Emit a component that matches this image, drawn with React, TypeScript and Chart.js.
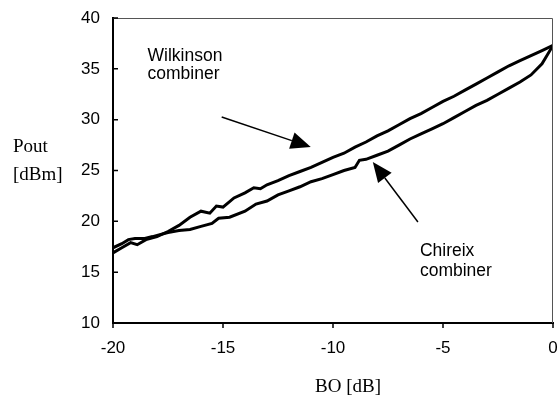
import React, { useEffect, useRef } from "react";
import { Chart, registerables } from "chart.js";

Chart.register(...registerables);

// BO [dB] sample positions and Pout [dBm] values
const wilkinsonBO = [-20, -19.6, -19.2, -18.9, -18.5, -18, -17.5, -17, -16.5, -16, -15.6, -15.3, -15, -14.5, -14, -13.6, -13.3, -13, -12.5, -12, -11.5, -11, -10.5, -10, -9.5, -9, -8.5, -8, -7.5, -7, -6.5, -6, -5.5, -5, -4.5, -4, -3.5, -3, -2.5, -2, -1.5, -1, -0.5, 0];
const wilkinsonPout = [16.9, 17.4, 17.9, 17.7, 18.2, 18.5, 19.0, 19.6, 20.4, 21.0, 20.8, 21.5, 21.4, 22.3, 22.8, 23.3, 23.2, 23.6, 24.0, 24.5, 24.9, 25.3, 25.8, 26.3, 26.7, 27.3, 27.8, 28.4, 28.9, 29.5, 30.1, 30.6, 31.2, 31.8, 32.3, 32.9, 33.5, 34.1, 34.7, 35.3, 35.8, 36.3, 36.8, 37.3];

const chireixBO = [-20, -19.6, -19.3, -19, -18.6, -18.2, -17.5, -17, -16.5, -16, -15.5, -15.2, -14.7, -14, -13.5, -13, -12.5, -12, -11.5, -11, -10.5, -10, -9.5, -9, -8.8, -8.5, -8, -7.5, -7, -6.5, -6, -5.5, -5, -4.5, -4, -3.5, -3, -2.5, -2, -1.5, -1, -0.5, 0];
const chireixPout = [17.4, 17.8, 18.2, 18.3, 18.3, 18.5, 18.9, 19.1, 19.2, 19.5, 19.8, 20.3, 20.4, 21.0, 21.7, 22.0, 22.6, 23.0, 23.4, 23.9, 24.2, 24.6, 25.0, 25.3, 26.0, 26.1, 26.5, 26.9, 27.5, 28.1, 28.6, 29.1, 29.6, 30.2, 30.8, 31.4, 31.9, 32.5, 33.1, 33.7, 34.4, 35.5, 37.3];

const xTicks = [-20, -15, -10, -5, 0];
const yTicks = [10, 15, 20, 25, 30, 35, 40];

// annotation anchors in data units
const wilkLabel = { x: -18.43, lines: [{ text: "Wilkinson", y: 35.8 }, { text: "combiner", y: 34.0 }] };
const wilkArrow = { from: [-15.06, 30.26], to: [-11.01, 27.31] };
const chirLabel = { x: -6.05, lines: [{ text: "Chireix", y: 16.62 }, { text: "combiner", y: 14.62 }] };
const chirArrow = { from: [-6.14, 19.94], to: [-8.19, 25.84] };

const SANS = "'Liberation Sans', Arial, sans-serif";
const SERIF = "'Liberation Serif', 'Times New Roman', serif";

function drawArrow(ctx: CanvasRenderingContext2D, x0: number, y0: number, x1: number, y1: number) {
  const dx = x1 - x0, dy = y1 - y0;
  const len = Math.hypot(dx, dy);
  const ux = dx / len, uy = dy / len;
  const hl = 20, hw = 8.5;
  const bx = x1 - ux * hl, by = y1 - uy * hl;
  ctx.save();
  ctx.strokeStyle = "#000";
  ctx.lineWidth = 1.5;
  ctx.beginPath();
  ctx.moveTo(x0, y0);
  ctx.lineTo(bx, by);
  ctx.stroke();
  ctx.fillStyle = "#000";
  ctx.beginPath();
  ctx.moveTo(x1, y1);
  ctx.lineTo(bx - uy * hw, by + ux * hw);
  ctx.lineTo(bx + uy * hw, by - ux * hw);
  ctx.closePath();
  ctx.fill();
  ctx.restore();
}

const decorPlugin = {
  id: "decor",
  afterDraw(chart: any) {
    const ctx: CanvasRenderingContext2D = chart.ctx;
    const { left, right, top, bottom } = chart.chartArea;
    const xs = chart.scales.x;
    const ys = chart.scales.y;
    ctx.save();
    // thin frame top/right
    ctx.strokeStyle = "#555";
    ctx.lineWidth = 1;
    ctx.beginPath();
    ctx.moveTo(left, top + 0.5);
    ctx.lineTo(right - 0.5, top + 0.5);
    ctx.lineTo(right - 0.5, bottom);
    ctx.stroke();
    // ticks
    ctx.strokeStyle = "#000";
    ctx.lineWidth = 1.5;
    ctx.beginPath();
    yTicks.forEach((v) => {
      const py = ys.getPixelForValue(v);
      ctx.moveTo(left, py);
      ctx.lineTo(left + 5, py);
    });
    xTicks.forEach((v) => {
      const px = xs.getPixelForValue(v);
      ctx.moveTo(px, bottom);
      ctx.lineTo(px, bottom + 5);
    });
    ctx.stroke();

    // annotations
    ctx.fillStyle = "#000";
    ctx.font = `17.5px ${SANS}`;
    ctx.textAlign = "left";
    ctx.textBaseline = "alphabetic";
    [wilkLabel, chirLabel].forEach((lab) => {
      lab.lines.forEach((ln) => {
        ctx.fillText(ln.text, xs.getPixelForValue(lab.x), ys.getPixelForValue(ln.y));
      });
    });
    [wilkArrow, chirArrow].forEach((a) => {
      drawArrow(
        ctx,
        xs.getPixelForValue(a.from[0]), ys.getPixelForValue(a.from[1]),
        xs.getPixelForValue(a.to[0]), ys.getPixelForValue(a.to[1])
      );
    });

    // axis titles
    ctx.font = `19px ${SERIF}`;
    ctx.textAlign = "left";
    ctx.fillText("Pout", 13, 152);
    ctx.fillText("[dBm]", 13, 180);
    ctx.fillText("BO [dB]", 315, 392);
    ctx.restore();
  },
};

const zeroPad = (s: any) => {
  s.paddingLeft = 0;
  s.paddingRight = 0;
  s.paddingTop = 0;
  s.paddingBottom = 0;
};

export default function App() {
  const ref = useRef<HTMLCanvasElement>(null);
  useEffect(() => {
    if (!ref.current) return;
    const chart = new Chart(ref.current, {
      type: "scatter",
      data: {
        datasets: [
          {
            label: "Wilkinson combiner",
            data: wilkinsonBO.map((x, i) => ({ x, y: wilkinsonPout[i] })),
            showLine: true,
            borderColor: "#000",
            borderWidth: 3,
            pointRadius: 0,
            tension: 0,
          },
          {
            label: "Chireix combiner",
            data: chireixBO.map((x, i) => ({ x, y: chireixPout[i] })),
            showLine: true,
            borderColor: "#000",
            borderWidth: 3,
            pointRadius: 0,
            tension: 0,
          },
        ],
      },
      options: {
        responsive: false,
        animation: false,
        layout: { padding: { left: 0, right: 5, top: 18, bottom: 0 } },
        plugins: { legend: { display: false }, tooltip: { enabled: false } },
        scales: {
          x: {
            type: "linear",
            min: -20,
            max: 0,
            afterBuildTicks: (s: any) => { s.ticks = xTicks.map((v) => ({ value: v })); },
            afterFit: (s: any) => { s.height = 73; zeroPad(s); },
            grid: { display: false, drawTicks: false },
            border: { display: true, color: "#000", width: 2 },
            ticks: { color: "#000", font: { family: SANS, size: 17 }, padding: 15, maxRotation: 0 },
          },
          y: {
            type: "linear",
            min: 10,
            max: 40,
            afterBuildTicks: (s: any) => { s.ticks = yTicks.map((v) => ({ value: v })); },
            afterFit: (s: any) => { s.width = 113; zeroPad(s); },
            grid: { display: false, drawTicks: false },
            border: { display: true, color: "#000", width: 2 },
            ticks: { color: "#000", font: { family: SANS, size: 17 }, padding: 13 },
          },
        },
      },
      plugins: [decorPlugin],
    });
    return () => chart.destroy();
  }, []);
  return (
    <div style={{ position: "absolute", left: 0, top: 0, width: 558, height: 396, background: "#fff" }}>
      <canvas ref={ref} width={558} height={396} style={{ width: 558, height: 396 }} />
    </div>
  );
}
